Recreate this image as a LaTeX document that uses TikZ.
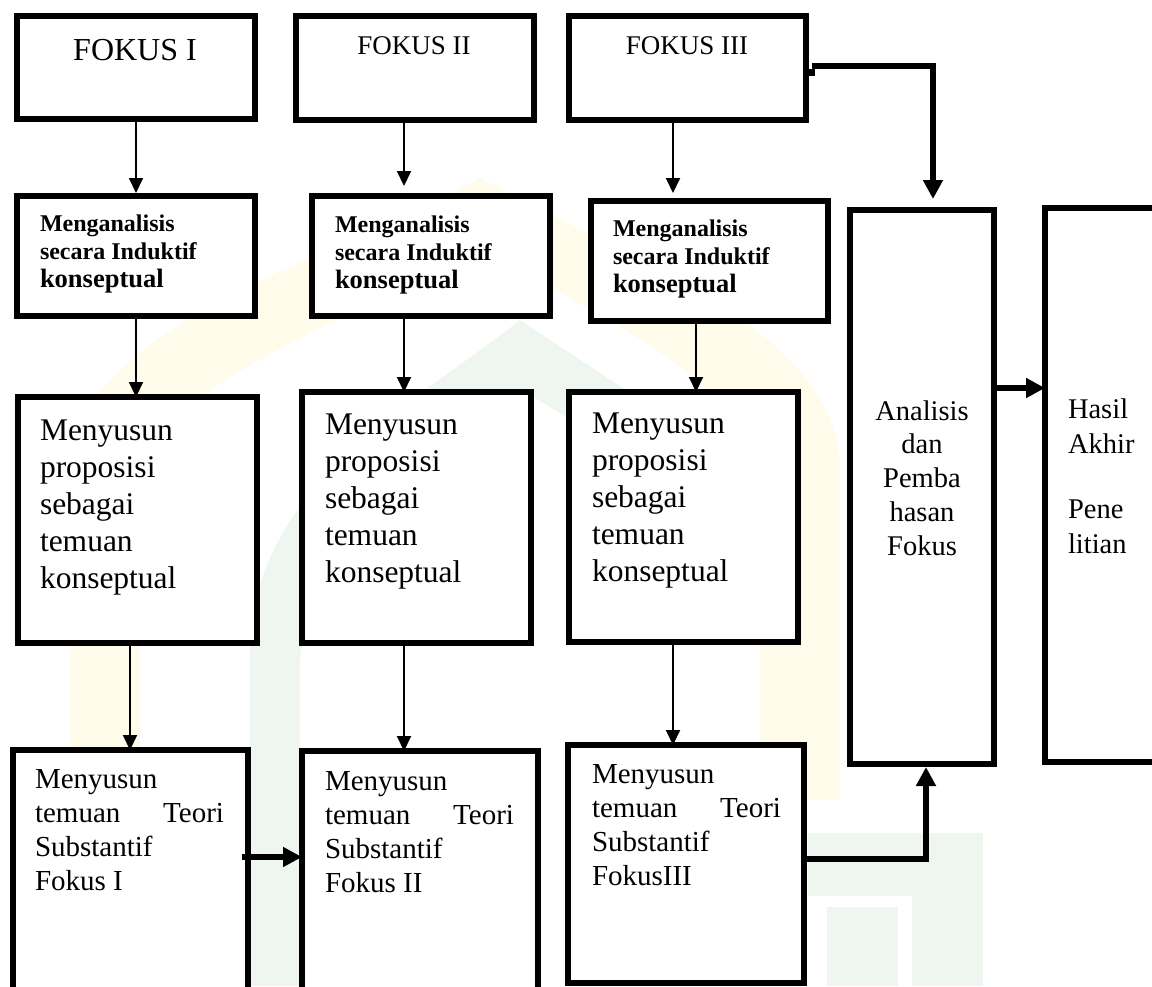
\documentclass[tikz,border=0pt]{standalone}
\usepackage{fontspec}
\setmainfont{Liberation Serif}
\usetikzlibrary{arrows.meta,calc}
\definecolor{wmyellow}{RGB}{255,252,236}
\definecolor{wmgreen}{RGB}{239,246,239}
\begin{document}
\begin{tikzpicture}[x=1pt,y=-1pt,
  box/.style={draw=black, line width=6pt, fill=white, rectangle, inner sep=0pt, outer sep=0pt},
  thinarr/.style={line width=2pt, -{Triangle[width=14pt,length=15pt]}},
  thickarr/.style={line width=6pt, -{Triangle[width=19pt,length=19pt]}},
  lbl/.style={inner sep=0pt, outer sep=0pt, anchor=base west},
  ctr/.style={inner sep=0pt, outer sep=0pt, anchor=base},
]
\useasboundingbox (0,0) rectangle (1152,986);
\begin{scope}
\clip (0,0) rectangle (1152,986);

% faint background emblem
\fill[wmyellow] (70,760) -- (70,470) .. controls (70,330) and (330,260) .. (480,178)
  .. controls (630,260) and (840,330) .. (840,470) -- (840,800) -- (760,800) -- (760,490)
  .. controls (760,390) and (610,320) .. (480,250) .. controls (350,320) and (140,390) .. (140,490)
  -- (140,760) -- cycle;
\fill[wmgreen] (250,986) -- (250,640) .. controls (260,480) and (420,400) .. (520,320)
  .. controls (640,400) and (760,470) .. (790,560) -- (740,580)
  .. controls (700,500) and (610,440) .. (520,390) .. controls (430,460) and (310,540) .. (300,660)
  -- (300,986) -- cycle;
\fill[wmgreen] (808,833) rectangle (983,986);
\fill[white] (808,896) rectangle (912,986);
\fill[wmgreen] (827,907) rectangle (898,986);

% boxes
\node[box, minimum width=238pt, minimum height=103pt] (f1) at (136,67.5) {};
\node[box, minimum width=238pt, minimum height=104pt] (f2) at (415,68) {};
\node[box, minimum width=237pt, minimum height=104pt] (f3) at (687.5,68) {};
\node[box, minimum width=238pt, minimum height=120pt] (m1) at (136,256) {};
\node[box, minimum width=238pt, minimum height=120pt] (m2) at (431,256) {};
\node[box, minimum width=237pt, minimum height=120pt] (m3) at (709.5,261) {};
\node[box, minimum width=239pt, minimum height=246pt] (p1) at (137.5,520) {};
\node[box, minimum width=229pt, minimum height=251pt] (p2) at (416.5,517.5) {};
\node[box, minimum width=229pt, minimum height=250pt] (p3) at (683.5,517) {};
\node[box, minimum width=235pt, minimum height=260pt] (b1) at (130.5,880) {};
\node[box, minimum width=236pt, minimum height=259pt] (b2) at (420,880.5) {};
\node[box, minimum width=236pt, minimum height=238pt] (b3) at (686,864) {};
\node[box, minimum width=144pt, minimum height=554pt] (an) at (922,487) {};
\node[box, minimum width=155pt, minimum height=554pt] (ha) at (1122.5,485) {};

% texts
\node[ctr] (tf1) at (135,60) {\fontsize{32}{38}\selectfont FOKUS I};
\node[ctr] (tf2) at (414,54) {\fontsize{27}{32}\selectfont FOKUS II};
\node[ctr] (tf3) at (687,54) {\fontsize{27}{32}\selectfont FOKUS III};

\newcommand{\analisisText}{\parbox[t]{210pt}{\raggedright\fontsize{24}{28}\selectfont\bfseries
  Menganalisis\\secara Induktif\\{\fontsize{26.5}{28}\selectfont konseptual}}}
\node[lbl] (tm1) at (40,231) {\analisisText};
\node[lbl] (tm2) at (335,232) {\analisisText};
\node[lbl] (tm3) at (613,236) {\analisisText};

\newcommand{\proposisiText}{\parbox[t]{210pt}{\raggedright\fontsize{31.5}{37}\selectfont
  Menyusun\\proposisi\\sebagai\\temuan\\konseptual}}
\node[lbl] (tp1) at (40,440) {\proposisiText};
\node[lbl] (tp2) at (325,434) {\proposisiText};
\node[lbl] (tp3) at (592,433) {\proposisiText};

\newcommand{\teoriText}[1]{\parbox[t]{200pt}{\raggedright\fontsize{29}{34}\selectfont
  Menyusun\\\makebox[189pt][l]{temuan\hfill Teori}\\Substantif\\#1}}
\node[lbl] (tb1) at (35,788) {\teoriText{Fokus I}};
\node[lbl] (tb2) at (325,790) {\teoriText{Fokus II}};
\node[lbl] (tb3) at (592,783) {\teoriText{FokusIII}};

\node[ctr] (tan) at (922,420) {\parbox[t]{140pt}{\centering\fontsize{28.5}{33.8}\selectfont
  Analisis\\dan\\Pemba\\hasan\\Fokus}};
\node[lbl] (tha) at (1068,418) {\parbox[t]{80pt}{\raggedright\fontsize{28.5}{35}\selectfont
  Hasil\\Akhir\\[30pt]Pene\\litian}};

% thin connectors
\draw[thinarr] (f1.south) -- ($(m1.north)+(0,-3)$);
\draw[thinarr] ([xshift=-11pt]f2.south) -- ($(m2.north)+(-27,-10)$);
\draw[thinarr] ([xshift=-14.5pt]f3.south) -- ($(m3.north)+(-36.5,-8)$);
\draw[thinarr] (m1.south) -- (m1.south |- p1.north);
\draw[thinarr] ([xshift=-27pt]m2.south) -- ($(p2.north)+(-12.5,0)$);
\draw[thinarr] ([xshift=-13.5pt]m3.south) -- ($(p3.north)+(12.5,0)$);
\draw[thinarr] ([xshift=-7.5pt]p1.south) -- ($(b1.north)+(-0.5,0)$);
\draw[thinarr] ([xshift=-12.5pt]p2.south) -- ($(b2.north)+(-16,0)$);
\draw[thinarr] ([xshift=-10.5pt]p3.south) -- ($(b3.north)+(-13,0)$);

% thick connectors
\fill ($(f3.east)+(3,1)$) rectangle ++(6,7);
\draw[thickarr] ($(f3.east)+(6,-2)$) -| ($(an.north)+(11,-11)$);
\draw[thickarr] ($(an.east)+(0,-99)$) -- ($(ha.west)+(0,-97)$);
\draw[thickarr] ($(b1.east)+(-6,-23)$) -- ($(b2.west)+(0,-23.5)$);
\draw[thickarr] ($(b3.east)+(0,-5)$) -| ($(an.south)+(4,3)$);
\end{scope}
\end{tikzpicture}
\end{document}
